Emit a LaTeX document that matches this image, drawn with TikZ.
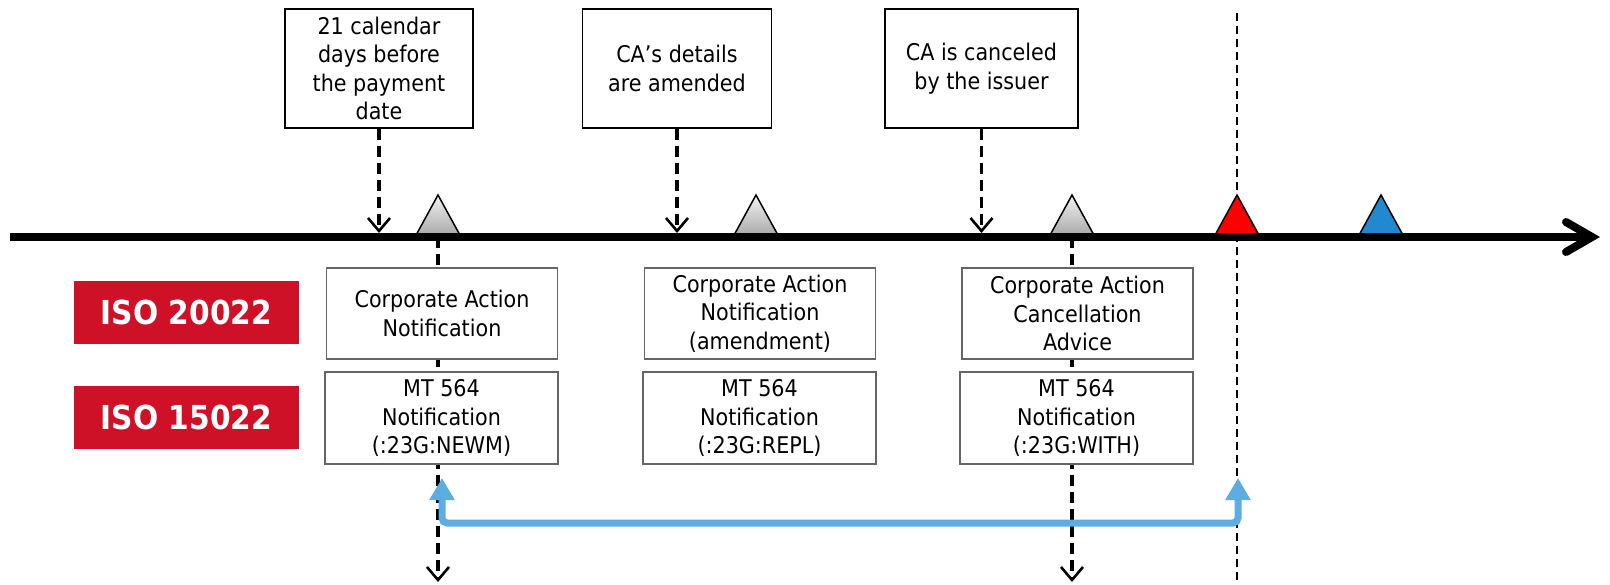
\documentclass[tikz,border=0pt]{standalone}
\usepackage{fontspec}
\setmainfont{DejaVu Sans Condensed}
\usepackage{tikz}
\usetikzlibrary{arrows.meta,positioning}
\definecolor{isored}{RGB}{206,17,38}
\definecolor{spanblue}{RGB}{93,173,226}
\definecolor{markblue}{RGB}{34,137,208}

\begin{document}
\begin{tikzpicture}[x=1pt,y=1pt]
    \tikzstyle{every node}+=[inner sep=0pt, font=\fontsize{23}{28.5}\selectfont]
    \tikzstyle{event}=[draw=black, line width=1.2pt, fill=white, align=center, minimum width=188pt, minimum height=119pt]
    \tikzstyle{msg}=[draw=black!60, line width=1.5pt, fill=white, align=center, minimum width=231pt]
    \tikzstyle{iso}=[fill=isored, text=white, minimum width=225pt, minimum height=63pt, font=\fontsize{33}{36}\selectfont\bfseries]
    \tikzstyle{pointer}=[black, line width=3.3pt, dash pattern=on 11pt off 6pt, -{Straight Barb[length=13pt,width=22pt,line width=2.6pt]}]
    \tikzstyle{marker}=[black, line width=1.5pt]
    \useasboundingbox (0,0) rectangle (1610,-584);
    \coordinate (t0) at (10,-237);
    \coordinate (t1) at (1600,-237);
    \coordinate (ttop) at (0,-233);
    \coordinate (mA) at (438,-237);
    \coordinate (mB) at (756,-237);
    \coordinate (mC) at (1072,-237);
    \coordinate (pay) at (1237,-237);
    \coordinate (due) at (1381,-237);
    \coordinate (endA) at (438,-582);
    \coordinate (endC) at (1072,-582);
    \coordinate (paytop) at (1237,-13);
    \coordinate (paybot) at (1237,-584);
    \coordinate (spanrow) at (0,-523);
    \coordinate (newmtip) at (442,-478);
    \coordinate (paytip) at (1238,-478);
    \draw [black, line width=2pt, dash pattern=on 8pt off 5pt] (paytop) -- (paybot);
    \draw [pointer] (mA) -- (endA);
    \draw [pointer] (mC) -- (endC);
    \filldraw [marker, top color=black!5, bottom color=black!35] ([xshift=-23pt]mA) -- ([yshift=42pt]mA) -- ([xshift=23pt]mA) -- cycle;
    \filldraw [marker, top color=black!5, bottom color=black!35] ([xshift=-23pt]mB) -- ([yshift=42pt]mB) -- ([xshift=23pt]mB) -- cycle;
    \filldraw [marker, top color=black!5, bottom color=black!35] ([xshift=-23pt]mC) -- ([yshift=42pt]mC) -- ([xshift=23pt]mC) -- cycle;
    \filldraw [marker, fill=red] ([xshift=-23pt]pay) -- ([yshift=42pt]pay) -- ([xshift=23pt]pay) -- cycle;
    \filldraw [marker, fill=markblue] ([xshift=-23pt]due) -- ([yshift=42pt]due) -- ([xshift=23pt]due) -- cycle;
    \draw [black, line width=8pt, -{Straight Barb[length=26pt,width=30pt,line cap=round]}] (t0) -- (t1);
    \node [event] (days) at (379,-68.5) {21 calendar\\days before\\the payment\\date};
    \node [event, minimum width=189pt] (amend) at (677,-68.5) {CA’s details\\are amended};
    \node [event, minimum width=193pt] (cancel) at (981.5,-68.5) {CA is canceled\\by the issuer};
    \draw [pointer] (days.south) -- (days.south |- ttop);
    \draw [pointer] (amend.south) -- (amend.south |- ttop);
    \draw [pointer] (cancel.south) -- (cancel.south |- ttop);
    \node [iso] (iso20) at (186.5,-312.5) {ISO 20022};
    \node [iso] (iso15) at (186.5,-417.5) {ISO 15022};
    \node [msg, minimum height=91pt] (newm20) at (442,-313.5) {Corporate Action\\Notification};
    \node [msg, minimum height=91pt] (repl20) at (760,-313.5) {Corporate Action\\Notification\\(amendment)};
    \node [msg, minimum height=91pt] (with20) at (1077.5,-313.5) {Corporate Action\\Cancellation\\Advice};
    \node [msg, minimum height=92pt, minimum width=233pt] (newm15) at (441.5,-418) {MT 564\\Notification\\(:23G:NEWM)};
    \node [msg, minimum height=92pt, minimum width=233pt] (repl15) at (759.5,-418) {MT 564\\Notification\\(:23G:REPL)};
    \node [msg, minimum height=92pt, minimum width=233pt] (with15) at (1076.5,-418) {MT 564\\Notification\\(:23G:WITH)};
    \draw [spanblue, line width=7pt, rounded corners=5pt, {Triangle[length=22pt,width=24pt]}-{Triangle[length=22pt,width=24pt]}] (newmtip) -- (newmtip |- spanrow) -- (paytip |- spanrow) -- (paytip);
\end{tikzpicture}
\end{document}
